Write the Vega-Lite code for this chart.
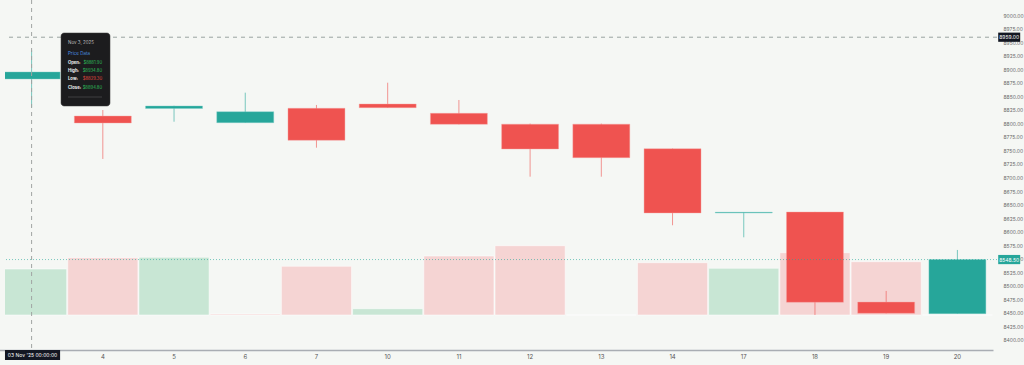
{
  "$schema": "https://vega.github.io/schema/vega-lite/v6.json",
  "width": 992,
  "height": 350,
  "autosize": {"type": "none"},
  "padding": {"left": 5, "top": 0, "right": 27, "bottom": 15},
  "background": "#f5f7f4",
  "config": {
    "view": {"stroke": null},
    "font": "Inter",
    "axisY": {"title": null, "labelFontSize": 5, "labelColor": "#6a6a6a", "labelOverlap": false, "labelBound": false, "ticks": false, "domain": false, "grid": true, "gridColor": "#eaedea", "gridWidth": 1, "labelPadding": 6}
  },
  "datasets": {
    "ohlc": [
      {"d": "3", "o": 8881.9, "h": 8934.8, "l": 8829.3, "c": 8894.8, "v": 46000, "dir": "up", "vdir": "up"},
      {"d": "4", "o": 8813.5, "h": 8824.6, "l": 8734.2, "c": 8800.6, "v": 57300, "dir": "down", "vdir": "down"},
      {"d": "5", "o": 8827.4, "h": 8832.5, "l": 8803.0, "c": 8832.0, "v": 57700, "dir": "up", "vdir": "up"},
      {"d": "6", "o": 8801.2, "h": 8856.6, "l": 8801.0, "c": 8821.5, "v": 1000, "dir": "up", "vdir": "down"},
      {"d": "7", "o": 8827.8, "h": 8833.9, "l": 8755.0, "c": 8768.7, "v": 48700, "dir": "down", "vdir": "down"},
      {"d": "10", "o": 8835.7, "h": 8875.0, "l": 8828.5, "c": 8828.9, "v": 6300, "dir": "down", "vdir": "up"},
      {"d": "11", "o": 8818.5, "h": 8843.1, "l": 8798.0, "c": 8798.2, "v": 59000, "dir": "down", "vdir": "down"},
      {"d": "12", "o": 8798.5, "h": 8799.5, "l": 8701.5, "c": 8752.6, "v": 69300, "dir": "down", "vdir": "down"},
      {"d": "13", "o": 8798.5, "h": 8799.5, "l": 8701.5, "c": 8736.6, "v": 0, "dir": "down", "vdir": "down"},
      {"d": "14", "o": 8753.2, "h": 8753.5, "l": 8611.8, "c": 8634.5, "v": 52300, "dir": "down", "vdir": "down"},
      {"d": "17", "o": 8634.5, "h": 8635.8, "l": 8589.6, "c": 8635.8, "v": 46700, "dir": "up", "vdir": "up"},
      {"d": "18", "o": 8636.3, "h": 8636.5, "l": 8446.2, "c": 8469.6, "v": 62300, "dir": "down", "vdir": "down"},
      {"d": "19", "o": 8470.0, "h": 8490.5, "l": 8449.0, "c": 8449.3, "v": 53300, "dir": "down", "vdir": "down"},
      {"d": "20", "o": 8448.6, "h": 8566.2, "l": 8448.5, "c": 8548.5, "v": 0, "dir": "up", "vdir": "up"}
    ]
  },
  "data": {"values": [{}]},
  "layer": [
    {
      "data": {"name": "ohlc"},
      "mark": {"type": "bar", "clip": true, "width": {"band": 0.985}, "stroke": "#ffffff", "strokeOpacity": 0.5, "strokeWidth": 1},
      "encoding": {
        "x": {
          "field": "d", "type": "ordinal",
          "scale": {"type": "band", "domain": ["3","4","5","6","7","10","11","12","13","14","17","18","19","20"], "range": [-9, 988], "paddingInner": 0, "paddingOuter": 0},
          "axis": {"title": null, "orient": "bottom", "ticks": false, "labelFontSize": 6, "labelColor": "#555555", "domainColor": "#a9adb3", "domainWidth": 1.5, "labelPadding": 3, "labelAngle": 0, "grid": false, "labelExpr": "datum.label == '3' ? '' : datum.label"}
        },
        "y": {"field": "v", "type": "quantitative", "scale": {"domain": [-35000, 315000], "nice": false, "zero": false}, "axis": null},
        "color": {"field": "vdir", "type": "nominal", "scale": {"domain": ["up", "down"], "range": ["#c8e6d4", "#f5d4d3"]}, "legend": null}
      }
    },
    {
      "layer": [
        {
          "data": {"name": "ohlc"},
          "mark": {"type": "rule", "clip": true, "strokeWidth": 1, "opacity": 0.6},
          "encoding": {
            "x": {"field": "d", "type": "ordinal"},
            "y": {
              "field": "l", "type": "quantitative",
              "scale": {"domain": [8381.5, 9027.7], "nice": false, "zero": false},
              "axis": {"orient": "right", "format": ".2f", "values": [8400,8425,8450,8475,8500,8525,8550,8575,8600,8625,8650,8675,8700,8725,8750,8775,8800,8825,8850,8875,8900,8925,8950,8975,9000]}
            },
            "y2": {"field": "h"},
            "color": {"field": "dir", "type": "nominal", "scale": {"domain": ["up", "down"], "range": ["#26a69a", "#ef5350"]}, "legend": null}
          }
        },
        {
          "data": {"name": "ohlc"},
          "mark": {"type": "bar", "clip": true, "width": {"band": 0.8}, "strokeWidth": 0.8, "strokeOpacity": 0.5},
          "encoding": {
            "x": {"field": "d", "type": "ordinal"},
            "y": {"field": "o", "type": "quantitative", "axis": {"orient": "right", "format": ".2f", "values": [8400,8425,8450,8475,8500,8525,8550,8575,8600,8625,8650,8675,8700,8725,8750,8775,8800,8825,8850,8875,8900,8925,8950,8975,9000]}},
            "y2": {"field": "c"},
            "color": {"field": "dir", "type": "nominal", "legend": null},
            "stroke": {"field": "dir", "type": "nominal", "scale": {"domain": ["up", "down"], "range": ["#7fd0c8", "#f7a5a3"]}, "legend": null}
          }
        },
        {
          "mark": {"type": "rule", "color": "#26a69a", "strokeDash": [1, 2], "strokeWidth": 1, "opacity": 0.6},
          "encoding": {"y": {"datum": 8548.5, "type": "quantitative", "axis": {"orient": "right", "format": ".2f", "values": [8400,8425,8450,8475,8500,8525,8550,8575,8600,8625,8650,8675,8700,8725,8750,8775,8800,8825,8850,8875,8900,8925,8950,8975,9000]}}}
        },
        {
          "mark": {"type": "rule", "color": "#9aa3a0", "strokeDash": [4, 4], "strokeWidth": 1},
          "encoding": {"y": {"datum": 8959, "type": "quantitative", "axis": {"orient": "right", "format": ".2f", "values": [8400,8425,8450,8475,8500,8525,8550,8575,8600,8625,8650,8675,8700,8725,8750,8775,8800,8825,8850,8875,8900,8925,8950,8975,9000]}}}
        },
        {
          "mark": {"type": "rule", "color": "#a0a4a3", "strokeDash": [4, 4], "strokeWidth": 1},
          "encoding": {"x": {"datum": "3", "type": "ordinal"}}
        },
        {
          "mark": {"type": "rect", "color": "#1c1c1e", "cornerRadius": 3, "stroke": "#3a3a3a", "strokeWidth": 0.5},
          "encoding": {
            "x": {"datum": "3", "type": "ordinal", "bandPosition": 0.913},
            "x2": {"datum": "3", "bandPosition": 1.601},
            "y": {"datum": 8966.8, "type": "quantitative", "axis": {"orient": "right", "format": ".2f", "values": [8400,8425,8450,8475,8500,8525,8550,8575,8600,8625,8650,8675,8700,8725,8750,8775,8800,8825,8850,8875,8900,8925,8950,8975,9000]}},
            "y2": {"datum": 8832}
          }
        },
        {
          "mark": {"type": "text", "text": "Nov 3, 2025", "align": "left", "baseline": "middle", "fontSize": 4.5, "color": "#bdbdbd"},
          "encoding": {"x": {"datum": "3", "type": "ordinal", "bandPosition": 1.011}, "y": {"datum": 8948.3, "type": "quantitative", "axis": {"orient": "right", "format": ".2f", "values": [8400,8425,8450,8475,8500,8525,8550,8575,8600,8625,8650,8675,8700,8725,8750,8775,8800,8825,8850,8875,8900,8925,8950,8975,9000]}}}
        },
        {
          "mark": {"type": "text", "text": "Price Data", "align": "left", "baseline": "middle", "fontSize": 4.5, "color": "#4a90e2"},
          "encoding": {"x": {"datum": "3", "type": "ordinal", "bandPosition": 1.011}, "y": {"datum": 8928, "type": "quantitative", "axis": {"orient": "right", "format": ".2f", "values": [8400,8425,8450,8475,8500,8525,8550,8575,8600,8625,8650,8675,8700,8725,8750,8775,8800,8825,8850,8875,8900,8925,8950,8975,9000]}}}
        },
        {
          "mark": {"type": "text", "text": "Open:", "align": "left", "baseline": "middle", "fontSize": 4.2, "fontWeight": "bold", "color": "#eeeeee"},
          "encoding": {"x": {"datum": "3", "type": "ordinal", "bandPosition": 1.011}, "y": {"datum": 8911.4, "type": "quantitative", "axis": {"orient": "right", "format": ".2f", "values": [8400,8425,8450,8475,8500,8525,8550,8575,8600,8625,8650,8675,8700,8725,8750,8775,8800,8825,8850,8875,8900,8925,8950,8975,9000]}}}
        },
        {
          "mark": {"type": "text", "text": "High:", "align": "left", "baseline": "middle", "fontSize": 4.2, "fontWeight": "bold", "color": "#eeeeee"},
          "encoding": {"x": {"datum": "3", "type": "ordinal", "bandPosition": 1.011}, "y": {"datum": 8896.6, "type": "quantitative", "axis": {"orient": "right", "format": ".2f", "values": [8400,8425,8450,8475,8500,8525,8550,8575,8600,8625,8650,8675,8700,8725,8750,8775,8800,8825,8850,8875,8900,8925,8950,8975,9000]}}}
        },
        {
          "mark": {"type": "text", "text": "Low:", "align": "left", "baseline": "middle", "fontSize": 4.2, "fontWeight": "bold", "color": "#eeeeee"},
          "encoding": {"x": {"datum": "3", "type": "ordinal", "bandPosition": 1.011}, "y": {"datum": 8881.9, "type": "quantitative", "axis": {"orient": "right", "format": ".2f", "values": [8400,8425,8450,8475,8500,8525,8550,8575,8600,8625,8650,8675,8700,8725,8750,8775,8800,8825,8850,8875,8900,8925,8950,8975,9000]}}}
        },
        {
          "mark": {"type": "text", "text": "Close:", "align": "left", "baseline": "middle", "fontSize": 4.2, "fontWeight": "bold", "color": "#eeeeee"},
          "encoding": {"x": {"datum": "3", "type": "ordinal", "bandPosition": 1.011}, "y": {"datum": 8865.2, "type": "quantitative", "axis": {"orient": "right", "format": ".2f", "values": [8400,8425,8450,8475,8500,8525,8550,8575,8600,8625,8650,8675,8700,8725,8750,8775,8800,8825,8850,8875,8900,8925,8950,8975,9000]}}}
        },
        {
          "mark": {"type": "text", "text": "$8881.90", "align": "right", "baseline": "middle", "fontSize": 4.2, "color": "#2ebd5a"},
          "encoding": {"x": {"datum": "3", "type": "ordinal", "bandPosition": 1.489}, "y": {"datum": 8911.4, "type": "quantitative", "axis": {"orient": "right", "format": ".2f", "values": [8400,8425,8450,8475,8500,8525,8550,8575,8600,8625,8650,8675,8700,8725,8750,8775,8800,8825,8850,8875,8900,8925,8950,8975,9000]}}}
        },
        {
          "mark": {"type": "text", "text": "$8934.80", "align": "right", "baseline": "middle", "fontSize": 4.2, "color": "#2ebd5a"},
          "encoding": {"x": {"datum": "3", "type": "ordinal", "bandPosition": 1.489}, "y": {"datum": 8896.6, "type": "quantitative", "axis": {"orient": "right", "format": ".2f", "values": [8400,8425,8450,8475,8500,8525,8550,8575,8600,8625,8650,8675,8700,8725,8750,8775,8800,8825,8850,8875,8900,8925,8950,8975,9000]}}}
        },
        {
          "mark": {"type": "text", "text": "$8829.30", "align": "right", "baseline": "middle", "fontSize": 4.2, "color": "#e0483f"},
          "encoding": {"x": {"datum": "3", "type": "ordinal", "bandPosition": 1.489}, "y": {"datum": 8881.9, "type": "quantitative", "axis": {"orient": "right", "format": ".2f", "values": [8400,8425,8450,8475,8500,8525,8550,8575,8600,8625,8650,8675,8700,8725,8750,8775,8800,8825,8850,8875,8900,8925,8950,8975,9000]}}}
        },
        {
          "mark": {"type": "text", "text": "$8894.80", "align": "right", "baseline": "middle", "fontSize": 4.2, "color": "#2ebd5a"},
          "encoding": {"x": {"datum": "3", "type": "ordinal", "bandPosition": 1.489}, "y": {"datum": 8865.2, "type": "quantitative", "axis": {"orient": "right", "format": ".2f", "values": [8400,8425,8450,8475,8500,8525,8550,8575,8600,8625,8650,8675,8700,8725,8750,8775,8800,8825,8850,8875,8900,8925,8950,8975,9000]}}}
        },
        {
          "mark": {"type": "rule", "color": "#4a4a4a", "strokeWidth": 0.8},
          "encoding": {
            "x": {"datum": "3", "type": "ordinal", "bandPosition": 1.011},
            "x2": {"datum": "3", "bandPosition": 1.489},
            "y": {"datum": 8848.6, "type": "quantitative", "axis": {"orient": "right", "format": ".2f", "values": [8400,8425,8450,8475,8500,8525,8550,8575,8600,8625,8650,8675,8700,8725,8750,8775,8800,8825,8850,8875,8900,8925,8950,8975,9000]}}
          }
        },
        {
          "mark": {"type": "rect", "color": "#131722"},
          "encoding": {
            "x": {"datum": "20", "type": "ordinal", "bandPosition": 1.073},
            "x2": {"datum": "20", "bandPosition": 1.382},
            "y": {"datum": 8967.5, "type": "quantitative", "axis": {"orient": "right", "format": ".2f", "values": [8400,8425,8450,8475,8500,8525,8550,8575,8600,8625,8650,8675,8700,8725,8750,8775,8800,8825,8850,8875,8900,8925,8950,8975,9000]}},
            "y2": {"datum": 8950.5}
          }
        },
        {
          "mark": {"type": "text", "text": "8959.00", "align": "center", "baseline": "middle", "fontSize": 5, "color": "#ffffff"},
          "encoding": {"x": {"datum": "20", "type": "ordinal", "bandPosition": 1.227}, "y": {"datum": 8959, "type": "quantitative", "axis": {"orient": "right", "format": ".2f", "values": [8400,8425,8450,8475,8500,8525,8550,8575,8600,8625,8650,8675,8700,8725,8750,8775,8800,8825,8850,8875,8900,8925,8950,8975,9000]}}}
        },
        {
          "mark": {"type": "rect", "color": "#26a69a"},
          "encoding": {
            "x": {"datum": "20", "type": "ordinal", "bandPosition": 1.073},
            "x2": {"datum": "20", "bandPosition": 1.382},
            "y": {"datum": 8557, "type": "quantitative", "axis": {"orient": "right", "format": ".2f", "values": [8400,8425,8450,8475,8500,8525,8550,8575,8600,8625,8650,8675,8700,8725,8750,8775,8800,8825,8850,8875,8900,8925,8950,8975,9000]}},
            "y2": {"datum": 8540}
          }
        },
        {
          "mark": {"type": "text", "text": "8548.50", "align": "center", "baseline": "middle", "fontSize": 5, "color": "#ffffff"},
          "encoding": {"x": {"datum": "20", "type": "ordinal", "bandPosition": 1.227}, "y": {"datum": 8548.5, "type": "quantitative", "axis": {"orient": "right", "format": ".2f", "values": [8400,8425,8450,8475,8500,8525,8550,8575,8600,8625,8650,8675,8700,8725,8750,8775,8800,8825,8850,8875,8900,8925,8950,8975,9000]}}}
        },
        {
          "mark": {"type": "rect", "color": "#131722"},
          "encoding": {
            "x": {"datum": "3", "type": "ordinal", "bandPosition": 0.126},
            "x2": {"datum": "3", "bandPosition": 0.9},
            "y": {"datum": 8381.5, "type": "quantitative", "axis": {"orient": "right", "format": ".2f", "values": [8400,8425,8450,8475,8500,8525,8550,8575,8600,8625,8650,8675,8700,8725,8750,8775,8800,8825,8850,8875,8900,8925,8950,8975,9000]}},
            "y2": {"datum": 8363}
          }
        },
        {
          "mark": {"type": "text", "text": "03 Nov '25   00:00:00", "align": "center", "baseline": "middle", "fontSize": 5, "color": "#ffffff"},
          "encoding": {"x": {"datum": "3", "type": "ordinal", "bandPosition": 0.513}, "y": {"datum": 8372, "type": "quantitative", "axis": {"orient": "right", "format": ".2f", "values": [8400,8425,8450,8475,8500,8525,8550,8575,8600,8625,8650,8675,8700,8725,8750,8775,8800,8825,8850,8875,8900,8925,8950,8975,9000]}}}
        }
      ]
    }
  ],
  "resolve": {"scale": {"y": "independent", "color": "independent"}}
}
